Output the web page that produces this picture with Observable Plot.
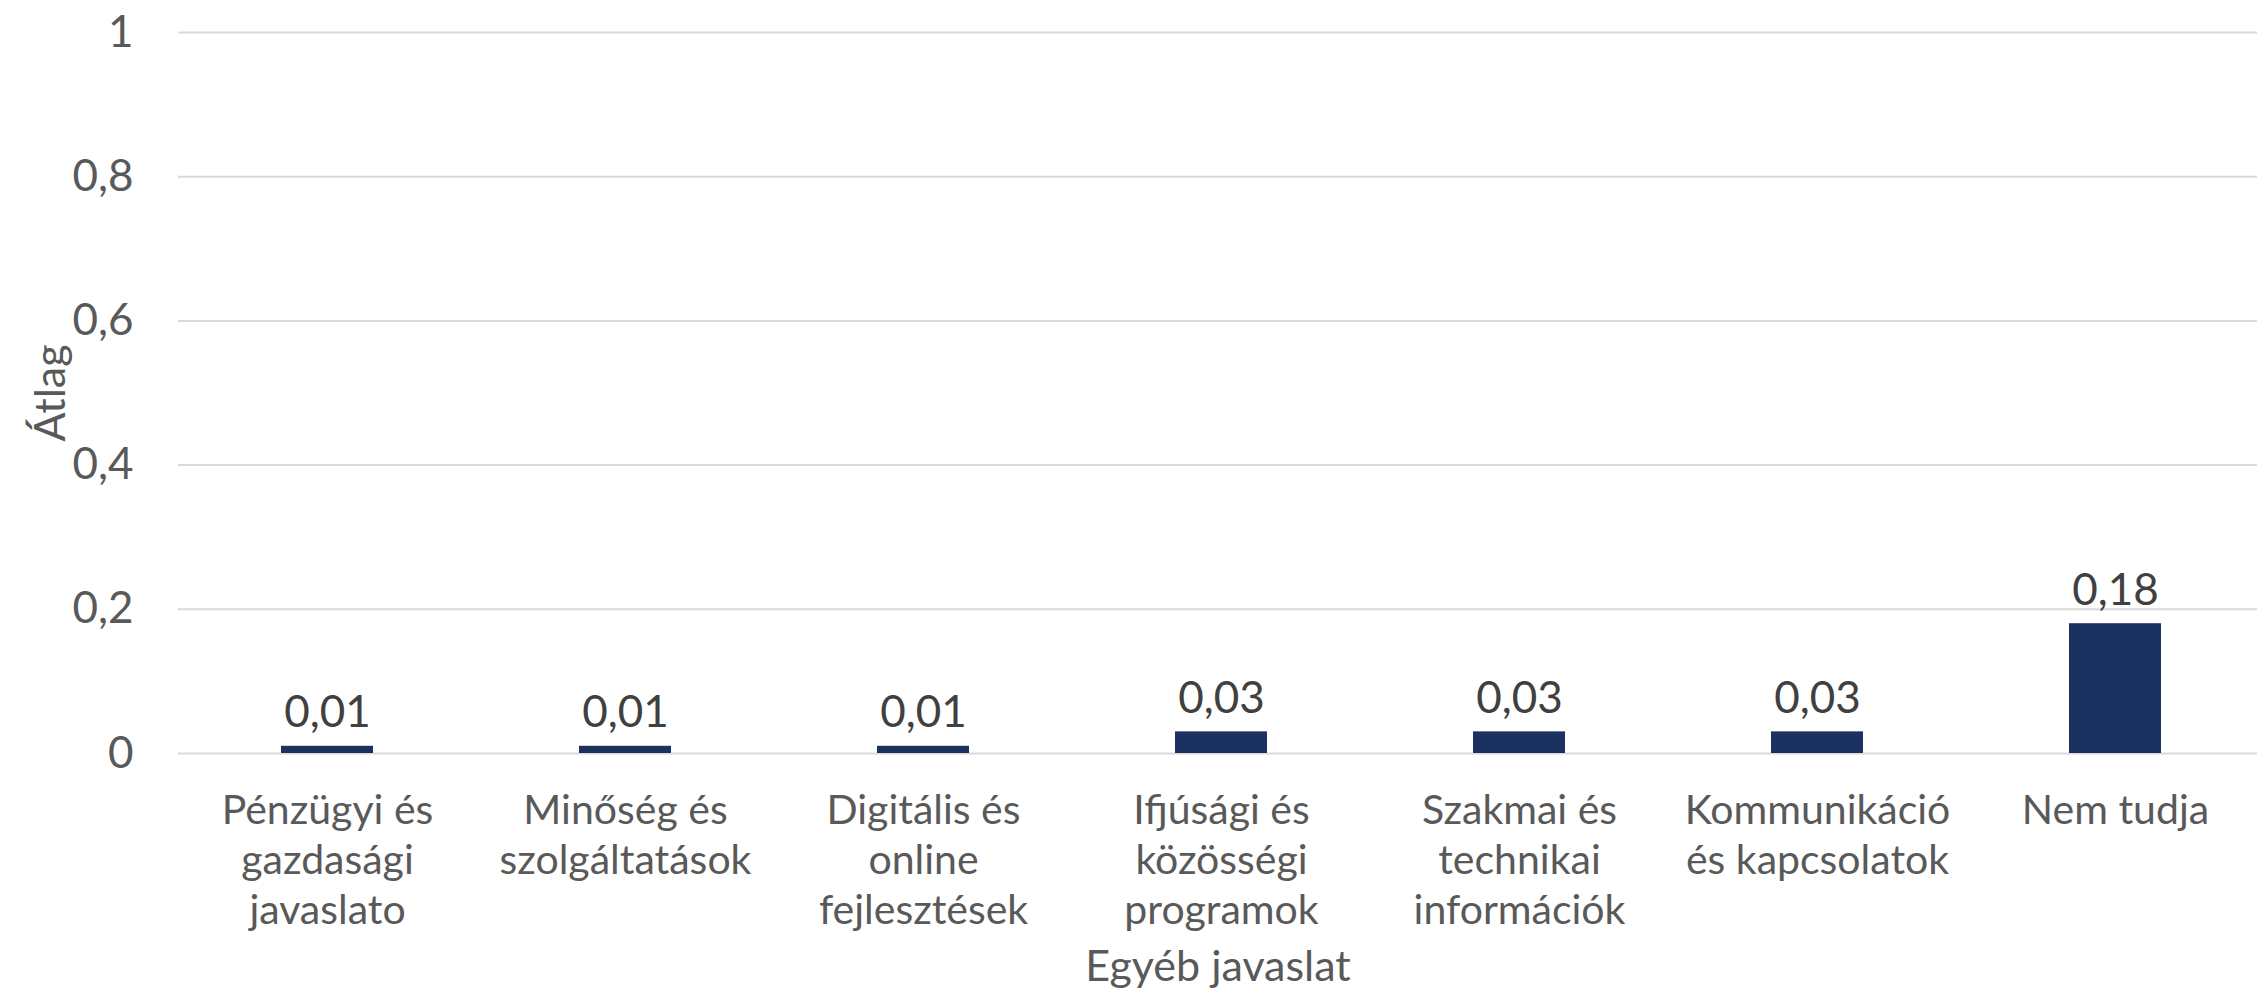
<!DOCTYPE html>
<html><head><meta charset="utf-8">
<script src="https://cdn.jsdelivr.net/npm/d3@7"></script>
<script src="https://cdn.jsdelivr.net/npm/@observablehq/plot@0.6"></script>
<style>html,body{margin:0;padding:0;background:#fff;} svg{display:block;}</style>
</head><body><div id="chart"></div>
<script>
const categories = ["Pénzügyi és gazdasági javaslato", "Minőség és szolgáltatások", "Digitális és online fejlesztések", "Ifjúsági és közösségi programok", "Szakmai és technikai információk", "Kommunikáció és kapcsolatok", "Nem tudja"];
const categoryLabels = ["Pénzügyi és\ngazdasági\njavaslato", "Minőség és\nszolgáltatások", "Digitális és\nonline\nfejlesztések", "Ifjúsági és\nközösségi\nprogramok", "Szakmai és\ntechnikai\ninformációk", "Kommunikáció\nés kapcsolatok", "Nem tudja"];
const values = [0.01, 0.01, 0.01, 0.03, 0.03, 0.03, 0.18];
const valueLabels = ["0,01", "0,01", "0,01", "0,03", "0,03", "0,03", "0,18"];
const yTicks = [0, 0.2, 0.4, 0.6, 0.8, 1];
const yTickLabels = ["0", "0,2", "0,4", "0,6", "0,8", "1"];
const xTitle = "Egyéb javaslat";
const yTitle = "Átlag";

const data = categories.map((c, i) => ({category: c, value: values[i], label: valueLabels[i]}));

const chart = Plot.plot({
  width: 2257, height: 993,
  marginTop: 32, marginBottom: 240, marginLeft: 178, marginRight: 0,
  style: {fontFamily: "Lato, sans-serif", background: "#fff", color: "#595959"},
  x: {domain: categories, range: [178, 2264], paddingInner: 0.69, paddingOuter: 0.345},
  y: {domain: [0, 1]},
  marks: [
    Plot.gridY(yTicks, {stroke: "#d9d9d9", strokeOpacity: 1, strokeWidth: 2}),
    Plot.barY(data, {x: "category", y: "value", fill: "#1b3160"}),
    Plot.text(data, {x: "category", y: "value", text: "label", dy: -19, lineAnchor: "bottom", fontSize: 44, fill: "#404040"}),
    Plot.axisY({ticks: yTicks, tickFormat: d => yTickLabels[yTicks.indexOf(d)], tickSize: 0, tickPadding: 45, fontSize: 44, fill: "#595959", label: null}),
    Plot.axisX({tickFormat: d => categoryLabels[categories.indexOf(d)], tickSize: 0, tickPadding: 35, fontSize: 41, lineHeight: 1.22, fill: "#595959", label: null}),
    Plot.text([yTitle], {frameAnchor: "left", textAnchor: "middle", lineAnchor: "middle", dx: -127, rotate: -90, fontSize: 43, fill: "#595959"}),
    Plot.text([xTitle], {frameAnchor: "bottom", textAnchor: "middle", lineAnchor: "middle", dy: 214, fontSize: 43, fill: "#595959"})
  ]
});
document.getElementById("chart").appendChild(chart);
</script>
</body></html>
